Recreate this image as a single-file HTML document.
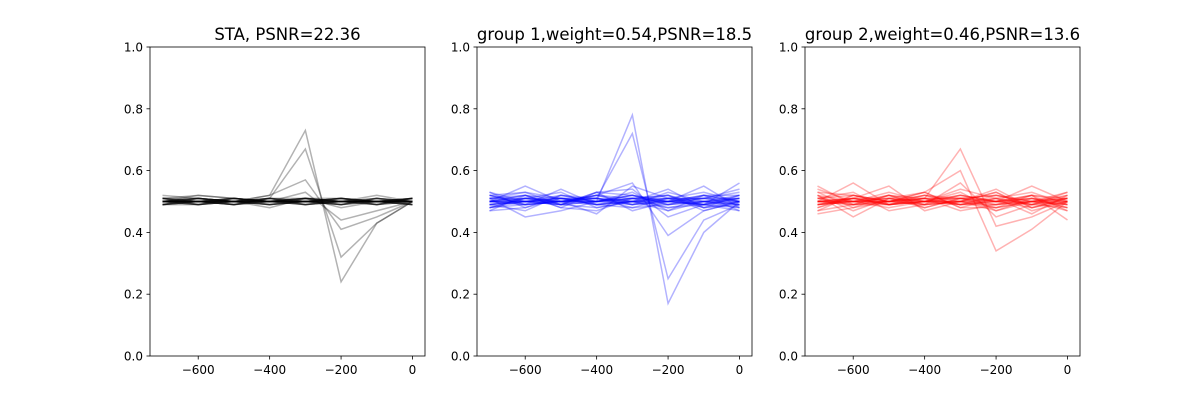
<!DOCTYPE html>
<html><head><meta charset="utf-8"><style>
body{margin:0;background:#fff}
svg text{font-family:"DejaVu Sans","Liberation Sans",sans-serif;fill:#000}
</style></head><body>
<svg id="c" width="1200" height="400"></svg>
<script>
const times=[-700,-600,-500,-400,-300,-200,-100,0];
const xTicks=[-600,-400,-200,0];
const yTicks=[0.0,0.2,0.4,0.6,0.8,1.0];
const titles=["STA, PSNR=22.36","group 1,weight=0.54,PSNR=18.5","group 2,weight=0.46,PSNR=13.6"];
const colors=["#000000","#0000ff","#ff0000"];
const staLines=[
[0.50,0.51,0.50,0.49,0.51,0.50,0.50,0.50],[0.51,0.52,0.51,0.50,0.50,0.49,0.50,0.51],
[0.49,0.50,0.49,0.50,0.51,0.51,0.49,0.50],[0.50,0.49,0.50,0.51,0.50,0.50,0.51,0.50],
[0.51,0.50,0.51,0.50,0.49,0.50,0.50,0.49],[0.50,0.50,0.50,0.49,0.50,0.51,0.50,0.51],
[0.49,0.49,0.50,0.50,0.51,0.49,0.50,0.50],[0.50,0.51,0.49,0.50,0.50,0.50,0.49,0.51],
[0.51,0.50,0.50,0.51,0.49,0.50,0.51,0.50],[0.50,0.50,0.51,0.50,0.50,0.51,0.50,0.49],
[0.49,0.50,0.50,0.48,0.51,0.50,0.50,0.51],[0.50,0.49,0.51,0.50,0.50,0.49,0.51,0.50],
[0.51,0.51,0.50,0.50,0.50,0.50,0.50,0.50],[0.50,0.50,0.49,0.51,0.51,0.50,0.49,0.51],
[0.52,0.51,0.50,0.49,0.50,0.51,0.50,0.50],[0.50,0.52,0.51,0.50,0.49,0.50,0.52,0.50],
[0.50,0.50,0.50,0.52,0.73,0.24,0.43,0.50],[0.50,0.50,0.50,0.51,0.67,0.32,0.43,0.50],
[0.50,0.51,0.50,0.52,0.57,0.41,0.45,0.50],[0.50,0.50,0.51,0.50,0.53,0.44,0.47,0.50],
[0.49,0.50,0.50,0.50,0.51,0.48,0.50,0.51],[0.51,0.49,0.50,0.51,0.50,0.50,0.50,0.49],
[0.50,0.50,0.49,0.50,0.50,0.50,0.50,0.50],[0.49,0.51,0.50,0.50,0.49,0.51,0.50,0.50],
[0.50,0.49,0.51,0.49,0.50,0.49,0.51,0.49],[0.51,0.50,0.49,0.51,0.50,0.50,0.49,0.51],
[0.50,0.50,0.50,0.50,0.51,0.50,0.50,0.50],[0.49,0.50,0.51,0.50,0.50,0.51,0.50,0.50],
[0.50,0.51,0.50,0.49,0.50,0.49,0.51,0.50],[0.51,0.49,0.50,0.50,0.51,0.50,0.50,0.51],
[0.50,0.50,0.49,0.51,0.49,0.50,0.50,0.49],[0.49,0.51,0.50,0.50,0.50,0.51,0.49,0.50]];
const g1Lines=[
[0.52,0.53,0.51,0.50,0.52,0.50,0.51,0.53],[0.48,0.50,0.49,0.48,0.50,0.52,0.49,0.48],
[0.50,0.55,0.50,0.52,0.49,0.51,0.53,0.50],[0.51,0.45,0.47,0.50,0.52,0.49,0.50,0.52],
[0.49,0.51,0.53,0.48,0.50,0.54,0.48,0.49],[0.53,0.50,0.49,0.53,0.47,0.50,0.52,0.47],
[0.47,0.48,0.52,0.50,0.53,0.47,0.50,0.51],[0.50,0.52,0.48,0.47,0.51,0.52,0.47,0.50],
[0.52,0.49,0.50,0.51,0.48,0.49,0.51,0.54],[0.48,0.51,0.51,0.49,0.50,0.50,0.55,0.48],
[0.51,0.53,0.49,0.52,0.51,0.48,0.49,0.51],[0.49,0.47,0.52,0.51,0.49,0.53,0.50,0.49],
[0.50,0.50,0.50,0.46,0.55,0.51,0.48,0.52],[0.53,0.48,0.51,0.50,0.50,0.47,0.52,0.50],
[0.47,0.52,0.49,0.53,0.52,0.50,0.49,0.47],[0.50,0.49,0.54,0.49,0.48,0.51,0.51,0.51],
[0.50,0.51,0.50,0.50,0.78,0.17,0.40,0.50],[0.50,0.50,0.51,0.51,0.72,0.25,0.44,0.49],
[0.49,0.50,0.50,0.52,0.56,0.39,0.47,0.50],[0.51,0.52,0.48,0.53,0.54,0.45,0.49,0.56],
[0.52,0.50,0.51,0.49,0.51,0.52,0.48,0.50],[0.48,0.49,0.50,0.51,0.50,0.49,0.52,0.52],
[0.50,0.51,0.49,0.50,0.51,0.50,0.50,0.49],[0.51,0.50,0.50,0.49,0.50,0.51,0.49,0.51],
[0.49,0.50,0.51,0.51,0.49,0.50,0.51,0.50],[0.50,0.49,0.50,0.50,0.52,0.49,0.50,0.50],
[0.51,0.51,0.50,0.51,0.50,0.50,0.49,0.52],[0.49,0.50,0.49,0.50,0.51,0.51,0.51,0.49],
[0.50,0.52,0.51,0.49,0.50,0.48,0.50,0.51],[0.52,0.49,0.50,0.50,0.49,0.50,0.52,0.50],
[0.48,0.51,0.50,0.52,0.50,0.51,0.50,0.48],[0.50,0.50,0.52,0.50,0.51,0.50,0.49,0.50]];
const g2Lines=[
[0.53,0.52,0.50,0.51,0.49,0.52,0.50,0.53],[0.47,0.49,0.52,0.48,0.51,0.48,0.52,0.47],
[0.50,0.56,0.49,0.50,0.52,0.50,0.49,0.51],[0.52,0.45,0.51,0.53,0.48,0.51,0.53,0.49],
[0.49,0.51,0.55,0.47,0.50,0.53,0.47,0.50],[0.54,0.50,0.48,0.50,0.53,0.47,0.50,0.52],
[0.46,0.48,0.50,0.52,0.49,0.50,0.51,0.48],[0.51,0.53,0.47,0.49,0.50,0.54,0.48,0.51],
[0.50,0.49,0.52,0.51,0.47,0.49,0.52,0.44],[0.48,0.52,0.49,0.50,0.52,0.50,0.55,0.50],
[0.52,0.47,0.51,0.48,0.51,0.52,0.49,0.53],[0.49,0.50,0.50,0.53,0.48,0.48,0.50,0.47],
[0.50,0.51,0.49,0.50,0.54,0.51,0.46,0.52],[0.53,0.48,0.52,0.49,0.50,0.47,0.51,0.50],
[0.50,0.50,0.50,0.51,0.67,0.42,0.45,0.50],[0.50,0.51,0.50,0.53,0.60,0.34,0.41,0.50],
[0.51,0.50,0.51,0.49,0.56,0.45,0.49,0.48],[0.47,0.52,0.50,0.50,0.51,0.50,0.52,0.51],
[0.55,0.49,0.49,0.52,0.50,0.53,0.48,0.50],[0.49,0.50,0.53,0.50,0.49,0.49,0.50,0.49],
[0.50,0.50,0.51,0.50,0.50,0.51,0.49,0.50],[0.51,0.49,0.50,0.51,0.51,0.49,0.50,0.51],
[0.49,0.51,0.49,0.50,0.50,0.50,0.51,0.49],[0.50,0.50,0.50,0.49,0.52,0.50,0.50,0.50],
[0.52,0.50,0.49,0.51,0.49,0.51,0.49,0.52],[0.48,0.51,0.51,0.50,0.50,0.49,0.51,0.48],
[0.50,0.49,0.50,0.52,0.51,0.52,0.50,0.51],[0.51,0.52,0.50,0.49,0.50,0.48,0.50,0.49],
[0.49,0.50,0.52,0.50,0.49,0.50,0.52,0.50],[0.50,0.51,0.49,0.51,0.51,0.50,0.48,0.51]];
const panels=[staLines,g1Lines,g2Lines];
const lefts=[150,477,805], W=275, axTop=47, axBottom=356;
const svg=document.getElementById('c'), NS='http://www.w3.org/2000/svg';
function mk(t,a,p){const e=document.createElementNS(NS,t);for(const k in a)e.setAttribute(k,a[k]);(p||svg).appendChild(e);return e;}
panels.forEach((lines,pi)=>{
  const L=lefts[pi];
  const xs=v=>L+(v+735)/770*W, ys=v=>axBottom-v*(axBottom-axTop);
  const g=mk('g',{});
  
  
  lines.forEach((ln,li)=>{
    const p=mk('polyline',{points:ln.map((v,i)=>xs(times[i])+','+ys(v)).join(' '),fill:'none',stroke:colors[pi],'stroke-opacity':0.3,'stroke-width':1.5},g);
    
    
  });
  const fr=mk('rect',{x:L,y:axTop,width:W,height:axBottom-axTop,fill:'none',stroke:'#000','stroke-width':0.8},g);
  
  
  xTicks.forEach(t=>{
    const x=xs(t);
    mk('line',{x1:x,x2:x,y1:axBottom,y2:axBottom+3.5,stroke:'#000','stroke-width':0.8},g);
    const tx=mk('text',{x:x,y:axBottom+18,'text-anchor':'middle','font-size':12},g);
    tx.textContent=(t<0?'\u2212'+(-t):t);
    
    
  });
  yTicks.forEach(t=>{
    const y=ys(t);
    mk('line',{x1:L-3.5,x2:L,y1:y,y2:y,stroke:'#000','stroke-width':0.8},g);
    const tx=mk('text',{x:L-7,y:y+4.5,'text-anchor':'end','font-size':12},g);
    tx.textContent=t.toFixed(1);
    
    
  });
  const ti=mk('text',{x:L+W/2,y:axTop-7,'text-anchor':'middle','font-size':16.5},g);
  ti.textContent=titles[pi];
  
  
});
</script>
</body></html>
